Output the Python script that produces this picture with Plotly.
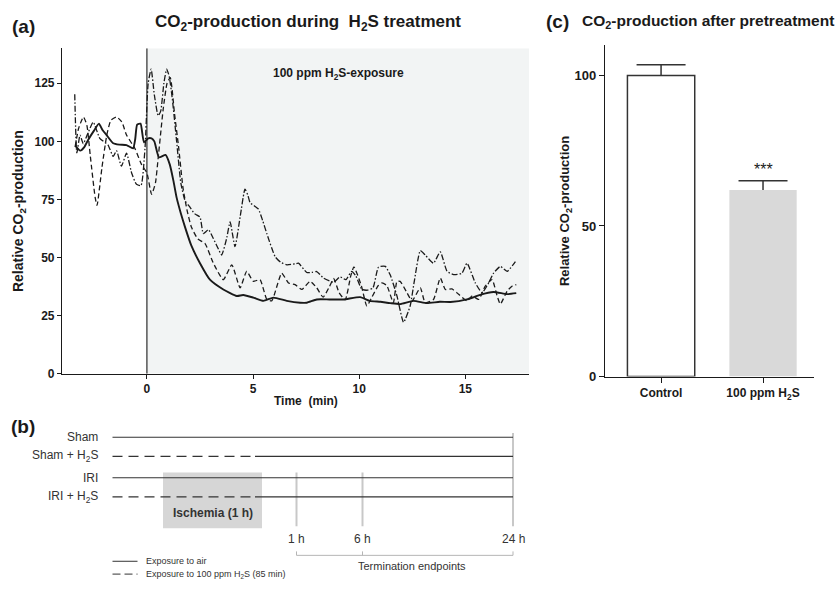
import plotly.graph_objects as go

W, H = 840, 589
FONT = "Liberation Sans, Arial, Helvetica, sans-serif"
INK = "#1a1a1a"

# ---------------- Panel (a): relative CO2 production vs time ----------------
time_air = [-3.38, -3.14, -2.95, -2.77, -2.5, -2.26, -2.1, -1.9, -1.59, -1.3,
            -0.96, -0.65, -0.55, -0.46, -0.3, -0.14, 0.06, 0.22, 0.35, 0.57,
            0.88, 1.08, 1.25, 1.4, 1.6, 1.8, 2.1, 2.5, 2.97, 3.6,
            4.23, 4.54, 5.01, 5.49, 5.96, 6.59, 7.22, 7.53, 8.0, 8.6,
            9.26, 10.05, 10.5, 11.0, 11.46, 11.93, 12.56, 13.19, 13.8, 14.3,
            15.08, 15.4, 15.7, 16.33, 16.97, 17.4]
co2_air = [98.2, 96.0, 97.5, 100.6, 104.5, 107.6, 105, 102.7, 99.2, 98.6,
           98.4, 97, 101, 107.2, 107.6, 99.6, 101.3, 101.3, 100, 93.1,
           94.2, 90, 83, 75.8, 69, 63, 55, 47.6, 40.5, 36.3,
           33.5, 33.9, 32.8, 31.4, 32.8, 31.4, 30.6, 30.6, 32, 32,
           32, 33, 31.4, 31, 30.4, 30, 31.4, 30.4, 31, 30.9,
           32, 33, 34, 35.2, 34.3, 34.7]

time_h2s_a = [-3.4, -3.3, -3.15, -3.0, -2.8, -2.53, -2.22, -1.83, -1.59, -1.43,
              -1.2, -0.96, -0.72, -0.49, -0.28, -0.09, 0.06, 0.2, 0.35, 0.53,
              0.65, 0.8, 0.93, 1.05, 1.2, 1.4, 1.6, 1.8, 2.0, 2.26,
              2.5, 2.66, 2.9, 3.13, 3.35, 3.52, 3.75, 3.92, 4.15, 4.4,
              4.62, 4.75, 4.86, 5.25, 5.45, 5.65, 6.04, 6.3, 6.59, 6.98,
              7.14, 7.53, 7.77, 8.0, 8.32, 8.79, 9.1, 9.37, 9.65, 9.85,
              10.13, 10.4, 10.65, 10.91, 11.23, 11.46, 11.78, 12.09, 12.4, 12.6,
              12.88, 13.11, 13.5, 13.82, 14.14, 14.45, 14.84, 15.08, 15.47, 15.79,
              16.1, 16.33, 16.65, 16.97, 17.36]
co2_h2s_a = [120.3, 95, 102.7, 99, 103, 108.3, 101.3, 98.4, 93.5, 96,
             89.3, 94.9, 86.4, 81.5, 81, 97, 125, 131, 120, 111,
             113, 125, 131, 128, 118, 100, 82, 74.4, 72, 68.8,
             67.4, 60.3, 62, 58.2, 54, 51.1, 58, 65.3, 54.7, 68,
             79.4, 77, 73.7, 70.9, 66, 60.3, 50.4, 48, 46.9, 47.3,
             47.6, 43.6, 43.6, 44, 41.2, 39.4, 41.7, 40.5, 44.1, 42,
             36.3, 36, 37, 45.9, 46.2, 42.6, 33.5, 22.2, 29.2, 40,
             53, 51.1, 47.6, 52.5, 44.1, 42.7, 43.3, 47.6, 39.1, 34.9,
             39.1, 43.3, 46.2, 44.1, 48.3]

time_h2s_b = [-3.38, -3.22, -2.99, -2.83, -2.67, -2.44, -2.35, -2.12, -1.89, -1.7,
              -1.43, -1.18, -0.96, -0.57, -0.25, 0.0, 0.22, 0.4, 0.53, 0.77,
              0.95, 1.1, 1.3, 1.5, 1.7, 1.9, 2.1, 2.4, 2.74, 3.13,
              3.6, 4.0, 4.39, 4.7, 5.01, 5.33, 5.65, 5.88, 6.35, 6.67,
              6.98, 7.3, 7.69, 8.0, 8.3, 8.6, 8.8, 9.05, 9.34, 9.6,
              9.75, 10.1, 10.36, 10.6, 10.9, 11.07, 11.3, 11.61, 11.78, 11.93,
              12.25, 12.49, 12.88, 13.11, 13.5, 13.82, 14.06, 14.37, 14.6, 15.08,
              15.32, 15.63, 15.94, 16.26, 16.5, 16.65, 16.97, 17.2, 17.4]
co2_h2s_b = [97.7, 105.5, 110.5, 107, 94, 76, 72.5, 88.6, 102.7, 109,
             110.5, 108.3, 102.7, 97, 90, 86.4, 77.2, 82, 92.8, 114,
             125, 127.4, 112, 97, 80, 70, 63, 58, 56, 47.6,
             40.5, 46.9, 37, 44.1, 39.8, 40.5, 32, 31.4, 43.3, 39.1,
             38.4, 36.3, 39.8, 37, 33, 37.5, 41, 35, 31.8, 42,
             46, 38, 29.2, 33, 38, 39.1, 38, 30.6, 39.8, 39.8,
             34.9, 31.4, 37, 30.6, 32, 41.2, 36.3, 36.5, 34.9, 31.4,
             33.5, 32, 37.7, 40.5, 33.5, 30, 35.6, 37.7, 38.4]

time_ticks_a = [0, 5, 10, 15]
co2_ticks_a = [0, 25, 50, 75, 100, 125]

# ---------------- Panel (c): CO2 production after pretreatment ----------------
groups_c = ["Control", "100 ppm H<sub>2</sub>S"]
co2_mean_c = [100, 62]
co2_sem_c = [3.6, 3.0]
co2_ticks_c = [0, 50, 100]

# ---------------- Panel (b): study design ----------------
rows_b = ["Sham", "Sham + H<sub>2</sub>S", "IRI", "IRI + H<sub>2</sub>S"]
rows_h2s_b = [False, True, False, True]
endpoints_b = ["1 h", "6 h", "24 h"]

# schematic layout (pixel-like units of the hidden design axis)
ROW_Y = [443.3, 462.7, 484.3, 503.7]
LINE_X0, DASH_X1, LINE_X1 = 112.5, 255, 513
ISCH = dict(x0=163, x1=262, y0=479, y1=535.5)
END_X = [296.5, 362.5, 513]
END_Y0 = [479, 479, 439]

def fx(p):
    return p / W

def fy(p):
    return 1 - p / H

fig = go.Figure()

line_kw = dict(shape="spline", smoothing=0.5, color=INK)
fig.add_trace(go.Scatter(x=time_h2s_b, y=co2_h2s_b, mode="lines",
                         line=dict(width=1.3, dash="5px,3px", **line_kw),
                         xaxis="x", yaxis="y", hoverinfo="skip"))
fig.add_trace(go.Scatter(x=time_h2s_a, y=co2_h2s_a, mode="lines",
                         line=dict(width=1.3, dash="6px,2px,1.5px,2px", **line_kw),
                         xaxis="x", yaxis="y", hoverinfo="skip"))
fig.add_trace(go.Scatter(x=time_air, y=co2_air, mode="lines",
                         line=dict(width=1.9, **line_kw),
                         xaxis="x", yaxis="y", hoverinfo="skip"))

# panel c bars
fig.add_trace(go.Bar(x=[0, 1], y=co2_mean_c, width=0.66,
                     marker=dict(color=["#ffffff", "#d9d9d9"],
                                 line=dict(color=["#333333", "#d9d9d9"], width=[1.5, 0])),
                     xaxis="x2", yaxis="y2", hoverinfo="skip"))
err_top = [m + s for m, s in zip(co2_mean_c, co2_sem_c)]
fig.add_trace(go.Scatter(x=[0, 1], y=err_top, mode="markers",
                         marker=dict(symbol="line-ew", size=35, color="#333333",
                                     line=dict(color="#333333", width=1.5)),
                         error_y=dict(type="data", symmetric=False, array=[0, 0],
                                      arrayminus=co2_sem_c, width=0, thickness=1.5,
                                      color="#333333"),
                         xaxis="x2", yaxis="y2", hoverinfo="skip", cliponaxis=False))

# panel b lines
for name, h2s, yy in zip(rows_b, rows_h2s_b, ROW_Y):
    if h2s:
        fig.add_trace(go.Scatter(x=[LINE_X0, DASH_X1], y=[yy, yy], mode="lines",
                                 line=dict(color="#333333", width=1.1, dash="10px,6px"),
                                 xaxis="x3", yaxis="y3", hoverinfo="skip"))
        fig.add_trace(go.Scatter(x=[DASH_X1, LINE_X1], y=[yy, yy], mode="lines",
                                 line=dict(color="#333333", width=1.1),
                                 xaxis="x3", yaxis="y3", hoverinfo="skip"))
    else:
        fig.add_trace(go.Scatter(x=[LINE_X0, LINE_X1], y=[yy, yy], mode="lines",
                                 line=dict(color="#333333", width=1.1),
                                 xaxis="x3", yaxis="y3", hoverinfo="skip"))
# legend lines of panel b
fig.add_trace(go.Scatter(x=[112.5, 137.5], y=[569, 569], mode="lines",
                         line=dict(color="#333333", width=1.0),
                         xaxis="x3", yaxis="y3", hoverinfo="skip"))
fig.add_trace(go.Scatter(x=[112.5, 137.5], y=[582, 582], mode="lines",
                         line=dict(color="#333333", width=1.0, dash="8px,4px"),
                         xaxis="x3", yaxis="y3", hoverinfo="skip"))

shapes = [
    # H2S exposure shading in panel a
    dict(type="rect", xref="x", yref="y", x0=0, x1=18, y0=0, y1=140,
         fillcolor="#f2f4f4", line=dict(width=0), layer="below"),
    dict(type="line", xref="x", yref="y", x0=0, x1=0, y0=0, y1=140,
         line=dict(color=INK, width=1.1), layer="below"),
    # ischemia box
    dict(type="rect", xref="x3", yref="y3", fillcolor="#d6d6d6", line=dict(width=0),
         layer="below", **ISCH),
]
for ex, ey0 in zip(END_X, END_Y0):
    shapes.append(dict(type="line", xref="x3", yref="y3", x0=ex, x1=ex, y0=ey0, y1=533.5,
                       line=dict(color="#c8c8c8", width=2), layer="below"))
shapes.append(dict(type="line", xref="x3", yref="y3", x0=END_X[0], x1=END_X[-1], y0=563, y1=563,
                   line=dict(color="#b5b5b5", width=1)))
for ex in END_X:
    shapes.append(dict(type="line", xref="x3", yref="y3", x0=ex, x1=ex, y0=559, y1=563,
                       line=dict(color="#b5b5b5", width=1)))

ann = []
def A(text, x, y, size, bold=False, xanchor="center", angle=0, color=INK, ref="paper"):
    t = f"<b>{text}</b>" if bold else text
    if ref == "paper":
        d = dict(text=t, x=fx(x), y=fy(y), xref="paper", yref="paper")
    else:
        d = dict(text=t, x=x, y=y, xref="x3", yref="y3")
    d.update(showarrow=False, xanchor=xanchor, yanchor="middle", textangle=angle,
             font=dict(size=size, color=color, family=FONT))
    ann.append(d)

A("(a)", 23, 27, 19, bold=True)
A("(b)", 23, 432, 19, bold=True)
A("(c)", 557, 22, 19, bold=True)
A("CO<sub>2</sub>-production during&nbsp;&nbsp;H<sub>2</sub>S treatment", 153, 23, 17, bold=True, xanchor="left")
A("CO<sub>2</sub>-production after pretreatment", 580, 22, 15.5, bold=True, xanchor="left")
A("100 ppm H<sub>2</sub>S-exposure", 271, 75, 12, bold=True, xanchor="left")
A("Relative CO<sub>2</sub>-production", 19, 214, 14, bold=True, angle=-90)
A("Relative CO<sub>2</sub>-production", 565, 214, 13, bold=True, angle=-90)
A("Time&nbsp;&nbsp;(min)", 306, 407, 12, bold=True)
A("***", 763, 172, 16)

for name, yy in zip(rows_b, ROW_Y):
    A(name, 100, yy, 12, xanchor="right", color="#333333", ref="x3")
A("Ischemia (1 h)", 213, 520, 12, bold=True, color="#333333", ref="x3")
for lab, ex in zip(endpoints_b, END_X):
    A(lab, ex, 546.5, 12, color="#333333", ref="x3")
A("Termination endpoints", 412, 574, 11, color="#333333", ref="x3")
A("Exposure to air", 144, 569, 9, xanchor="left", color="#333333", ref="x3")
A("Exposure to 100 ppm H<sub>2</sub>S (85 min)", 144, 582, 9, xanchor="left", color="#333333", ref="x3")

axis_common = dict(showline=True, linecolor=INK, linewidth=1.2, ticks="outside",
                   tickcolor=INK, tickwidth=1.1, showgrid=False, zeroline=False)
tf_a = dict(size=12, family=FONT, color=INK, weight="bold")
tf_c = dict(size=13, family=FONT, color=INK, weight="bold")

fig.update_layout(
    width=W, margin=dict(l=0, r=0, t=0, b=0),
    paper_bgcolor="white", plot_bgcolor="white", showlegend=False,
    font=dict(family=FONT, color=INK),
    xaxis=dict(domain=[fx(62), fx(529)], range=[-4, 18], anchor="y",
               tickvals=time_ticks_a, ticklen=4, tickfont=tf_a, **axis_common),
    yaxis=dict(domain=[fy(379), fy(49)], range=[0, 140], anchor="x",
               tickvals=co2_ticks_a, ticklen=4, tickfont=tf_a, **axis_common),
    xaxis2=dict(domain=[fx(605), fx(814)], range=[-0.55, 1.5], anchor="y2",
                tickvals=[0, 1], ticktext=groups_c, ticklen=5,
                tickfont=dict(size=12, family=FONT, color=INK, weight="bold"), **axis_common),
    yaxis2=dict(domain=[fy(381.7), fy(46)], range=[0, 110], anchor="x2",
                tickvals=co2_ticks_c, ticklen=5, tickfont=tf_c, **axis_common),
    xaxis3=dict(domain=[0, 1], range=[0, W], anchor="y3", visible=False, fixedrange=True),
    yaxis3=dict(domain=[0, fy(395)], range=[H, 395], anchor="x3", visible=False, fixedrange=True),
    shapes=shapes, annotations=ann,
)

page_fix = (
    "document.documentElement.style.margin='0';document.documentElement.style.overflow='hidden';"
    "document.body.style.margin='0';document.body.style.padding='0';document.body.style.overflow='hidden';"
)
fig.write_html("out.html", config={"displayModeBar": False},
               default_width="840px", default_height="100vh", post_script=page_fix)
